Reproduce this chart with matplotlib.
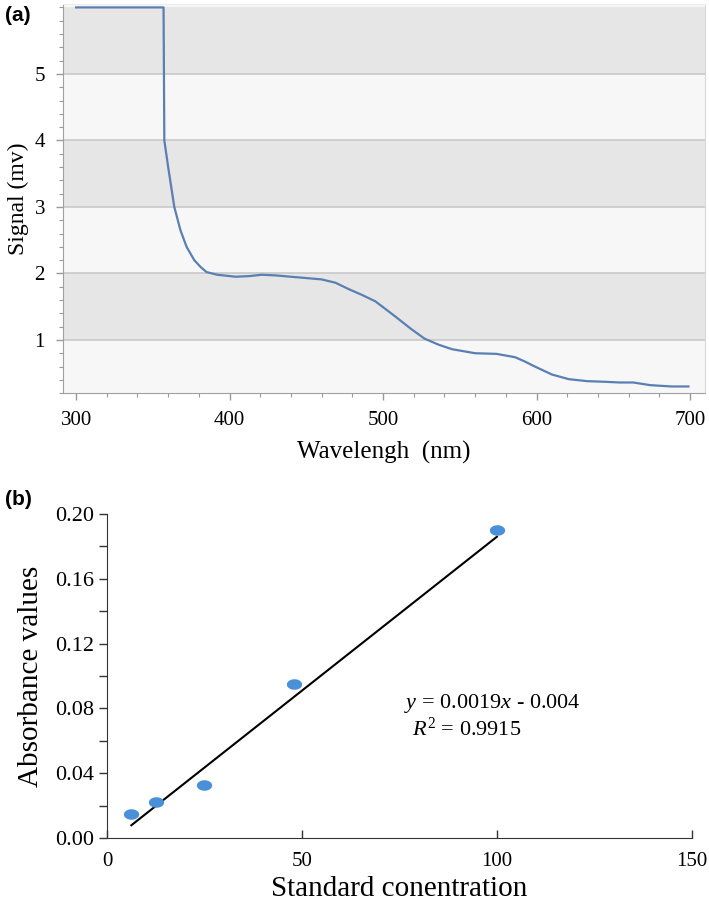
import numpy as np
import matplotlib.pyplot as plt
from matplotlib.path import Path
from matplotlib.ticker import MultipleLocator

plt.rcParams['font.family'] = ['Liberation Serif', 'DejaVu Serif']
plt.rcParams['mathtext.fontset'] = 'custom'
plt.rcParams['mathtext.rm'] = 'Liberation Serif'
plt.rcParams['mathtext.it'] = 'Liberation Serif:italic'

# (a) spectrum
wavelength = [300, 357, 357.5, 360, 364, 368, 372, 377, 381, 385, 392, 404, 413, 421,
              430, 445, 460, 469, 478, 486, 495, 507, 518, 527, 536, 545, 560,
              574, 586, 592, 598, 610, 621, 633, 645, 654, 663, 674, 688, 699]
signal = [6.0, 6.0, 4.0, 3.6, 3.0, 2.65, 2.4, 2.2, 2.1, 2.02, 1.98, 1.95, 1.96, 1.98,
          1.97, 1.94, 1.91, 1.86, 1.76, 1.68, 1.58, 1.37, 1.17, 1.02, 0.93, 0.86, 0.80,
          0.79, 0.74, 0.68, 0.61, 0.48, 0.41, 0.38, 0.37, 0.36, 0.36, 0.32, 0.30, 0.30]

# (b) calibration points
concentration = [6.25, 12.5, 25, 48, 100]
absorbance = [0.015, 0.022, 0.033, 0.095, 0.19]
slope, intercept = 0.0019, -0.004

fig = plt.figure(figsize=(7.09, 9.10), dpi=100)

# ---- panel (a)
ax1 = fig.add_axes([0.0889, 0.568, 0.9055, 0.4275])
ax1.set_xlim(291.5, 709.8)
ax1.set_ylim(0.2, 6.05)
ax1.set_facecolor('#f7f7f7')
for k in range(0, 6):
    if k % 2 == 1:
        ax1.axhspan(k, k + 1, color='#e6e6e6', zorder=0, lw=0)
for k in range(1, 6):
    ax1.axhline(k, color='#c9c9c9', lw=1.2, zorder=1)
ax1.plot(wavelength, signal, color='#5a7fb3', lw=1.6, zorder=3)

ax1.set_xticks([300, 400, 500, 600, 700])
ax1.xaxis.set_minor_locator(MultipleLocator(20))
ax1.set_yticks([1, 2, 3, 4, 5])
ax1.yaxis.set_minor_locator(MultipleLocator(0.2))
ax1.tick_params(axis='both', which='major', color='#999999', length=5, width=1, labelsize=15)
ax1.tick_params(axis='both', which='minor', color='#999999', length=3, width=0.8)
ax1.tick_params(axis='x', pad=8)
ax1.tick_params(axis='y', pad=8)
for s in ['left', 'bottom']:
    ax1.spines[s].set_color('#a0a0a0')
ax1.spines['right'].set_color('#d8d8d8')
ax1.spines['top'].set_color('#ededed')
ax1.set_xlabel('Wavelengh  (nm)', fontsize=18, labelpad=8)
ax1.set_ylabel('Signal (mv)', fontsize=17)
ax1.yaxis.set_label_coords(-0.053, 0.5)
fig.text(0.007, 0.993, '(a)', fontsize=15, fontweight='bold', family='Liberation Sans', va='top')

# ---- panel (b)
ax2 = fig.add_axes([0.1509, 0.0791, 0.825, 0.356])
ax2.set_xlim(0, 150)
ax2.set_ylim(0, 0.2)
t = np.linspace(0, 2 * np.pi, 60)
ellipse = Path(np.column_stack([1.45 * np.cos(t), np.sin(t)]))
xfit = np.array([concentration[0], concentration[-1]])
ax2.plot(xfit, slope * xfit + intercept, color='black', lw=1.5, zorder=2)
ax2.plot(concentration, absorbance, ls='none', marker=ellipse, markersize=11,
         color='#4a90d9', mec='none', zorder=3, clip_on=False)
ax2.set_xticks([0, 50, 100, 150])
ax2.set_yticks(np.arange(0, 0.201, 0.04))
ax2.set_yticklabels(['%.2f' % v for v in np.arange(0, 0.201, 0.04)])
ax2.yaxis.set_minor_locator(MultipleLocator(0.02))
ax2.tick_params(axis='y', which='both', direction='out', length=6, width=1, labelsize=16, color='#333333')
ax2.tick_params(axis='x', direction='in', length=6, width=1, labelsize=15, pad=10, color='#333333')
for s in ['top', 'right']:
    ax2.spines[s].set_visible(False)
for s in ['left', 'bottom']:
    ax2.spines[s].set_color('#333333')
ax2.set_xlabel('Standard conentration', fontsize=21, labelpad=4)
ax2.set_ylabel('Absorbance values', fontsize=21, labelpad=8)
ax2.text(0.508, 0.40, r'$y$ = 0.0019$x$ - 0.004', transform=ax2.transAxes, fontsize=16)
ax2.text(0.522, 0.315, r'$R^{2}$ = 0.9915', transform=ax2.transAxes, fontsize=16)
fig.text(0.007, 0.462, '(b)', fontsize=15, fontweight='bold', family='Liberation Sans', va='top')

fig.savefig('out.png', dpi=100)
